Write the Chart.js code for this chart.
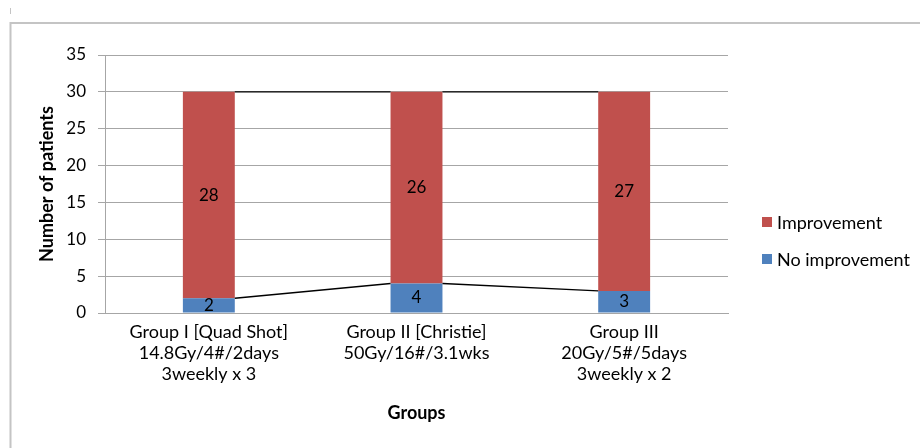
<!DOCTYPE html>
<html>
<head>
<meta charset="utf-8">
<script src="https://cdn.jsdelivr.net/npm/chart.js@4/dist/chart.umd.min.js"></script>
<style>
  html, body { margin: 0; padding: 0; background: #fff; }
  #wrap { width: 920px; height: 448px; position: relative; }
</style>
</head>
<body>
<div id="wrap"><canvas id="chart" width="920" height="448"></canvas></div>
<script>
// Treatment groups (multi-line category labels)
const groupLabels = [
  ['Group I [Quad Shot]', '14.8Gy/4#/2days', '3weekly x 3'],
  ['Group II [Christie]', '50Gy/16#/3.1wks'],
  ['Group III', '20Gy/5#/5days', '3weekly x 2']
];
// Patients per outcome in each group
const noImprovement = [2, 4, 3];
const improvement = [28, 26, 27];
// Value axis
const yMin = 0;
const yMax = 35;
const yStep = 5;

const FONT = 'Lato, "Open Sans", sans-serif';

// Thin frame around the chart
const framePlugin = {
  id: 'frame',
  beforeDraw(chart) {
    const ctx = chart.ctx;
    ctx.save();
    ctx.strokeStyle = '#c4c4c4';
    ctx.lineWidth = 2;
    ctx.beginPath();
    ctx.moveTo(10.5, chart.height);
    ctx.lineTo(10.5, 23);
    ctx.lineTo(chart.width, 23);
    ctx.stroke();
    ctx.lineWidth = 1;
    ctx.beginPath();
    ctx.moveTo(10.5, 8);
    ctx.lineTo(10.5, 14);
    ctx.stroke();
    ctx.restore();
  }
};

// Series lines joining the top of each stacked segment across bars
const seriesLinesPlugin = {
  id: 'seriesLines',
  afterDatasetsDraw(chart) {
    const ctx = chart.ctx;
    ctx.save();
    ctx.strokeStyle = '#000';
    ctx.lineWidth = 1.3;
    chart.data.datasets.forEach((ds, di) => {
      const bars = chart.getDatasetMeta(di).data;
      for (let i = 0; i < bars.length - 1; i++) {
        const a = bars[i].getProps(['x', 'y', 'width'], true);
        const b = bars[i + 1].getProps(['x', 'y', 'width'], true);
        ctx.beginPath();
        ctx.moveTo(a.x + a.width / 2, a.y);
        ctx.lineTo(b.x - b.width / 2, b.y);
        ctx.stroke();
      }
    });
    ctx.restore();
  }
};

// Segment values printed in the middle of each segment
const valueLabelsPlugin = {
  id: 'valueLabels',
  afterDatasetsDraw(chart) {
    const ctx = chart.ctx;
    ctx.save();
    ctx.fillStyle = '#000';
    ctx.font = '17px ' + FONT;
    ctx.textAlign = 'center';
    ctx.textBaseline = 'middle';
    chart.data.datasets.forEach((ds, di) => {
      chart.getDatasetMeta(di).data.forEach((bar, i) => {
        const p = bar.getProps(['x', 'y', 'base'], true);
        ctx.fillText(String(ds.data[i]), p.x, (p.y + p.base) / 2);
      });
    });
    ctx.restore();
  }
};

// Legend to the right of the plot, top series listed first
const sideLegendPlugin = {
  id: 'sideLegend',
  afterDraw(chart) {
    const ctx = chart.ctx;
    const area = chart.chartArea;
    const x = area.right + 34;
    const rowGap = 37;
    const items = chart.data.datasets.slice().reverse();
    const y0 = 222;
    ctx.save();
    ctx.font = '18px ' + FONT;
    ctx.textBaseline = 'middle';
    ctx.textAlign = 'left';
    items.forEach((ds, i) => {
      const y = y0 + i * rowGap;
      ctx.fillStyle = ds.backgroundColor;
      ctx.fillRect(x, y - 5, 10, 10);
      ctx.fillStyle = '#000';
      ctx.fillText(ds.label, x + 15, y + 1);
    });
    ctx.restore();
  }
};

new Chart(document.getElementById('chart'), {
  type: 'bar',
  data: {
    labels: groupLabels,
    datasets: [
      {
        label: 'No improvement',
        data: noImprovement,
        backgroundColor: '#4f81bd',
        borderWidth: 0,
        categoryPercentage: 1,
        barPercentage: 0.25
      },
      {
        label: 'Improvement',
        data: improvement,
        backgroundColor: '#c0504d',
        borderWidth: 0,
        categoryPercentage: 1,
        barPercentage: 0.25
      }
    ]
  },
  options: {
    responsive: false,
    animation: false,
    devicePixelRatio: 1,
    layout: { padding: { top: 55, left: 20, right: 192, bottom: 0 } },
    plugins: {
      tooltip: { enabled: false },
      legend: { display: false }
    },
    scales: {
      x: {
        stacked: true,
        grid: { display: false, drawTicks: false },
        border: { display: true, color: '#a6a6a6', width: 1 },
        ticks: {
          color: '#000',
          padding: 9,
          maxRotation: 0,
          autoSkip: false,
          font: { family: FONT, size: 18, lineHeight: 1.17 }
        },
        title: {
          display: true,
          text: 'Groups',
          color: '#000',
          font: { family: FONT, size: 18, weight: 'bold' },
          padding: { top: 0, bottom: 24 }
        },
        afterFit(scale) { scale.height = 135; }
      },
      y: {
        stacked: true,
        min: yMin,
        max: yMax,
        grid: {
          color: '#a6a6a6',
          lineWidth: 1,
          tickLength: 7,
          tickColor: '#a6a6a6'
        },
        border: { display: true, color: '#a6a6a6', width: 1 },
        ticks: {
          stepSize: yStep,
          color: '#000',
          padding: 12,
          font: { family: FONT, size: 17 }
        },
        title: {
          display: true,
          text: 'Number of patients',
          color: '#000',
          font: { family: FONT, size: 18, weight: 'bold' },
          padding: { top: 16, bottom: 0 }
        },
        afterFit(scale) { scale.width = 85; }
      }
    }
  },
  plugins: [framePlugin, seriesLinesPlugin, valueLabelsPlugin, sideLegendPlugin]
});
</script>
</body>
</html>
